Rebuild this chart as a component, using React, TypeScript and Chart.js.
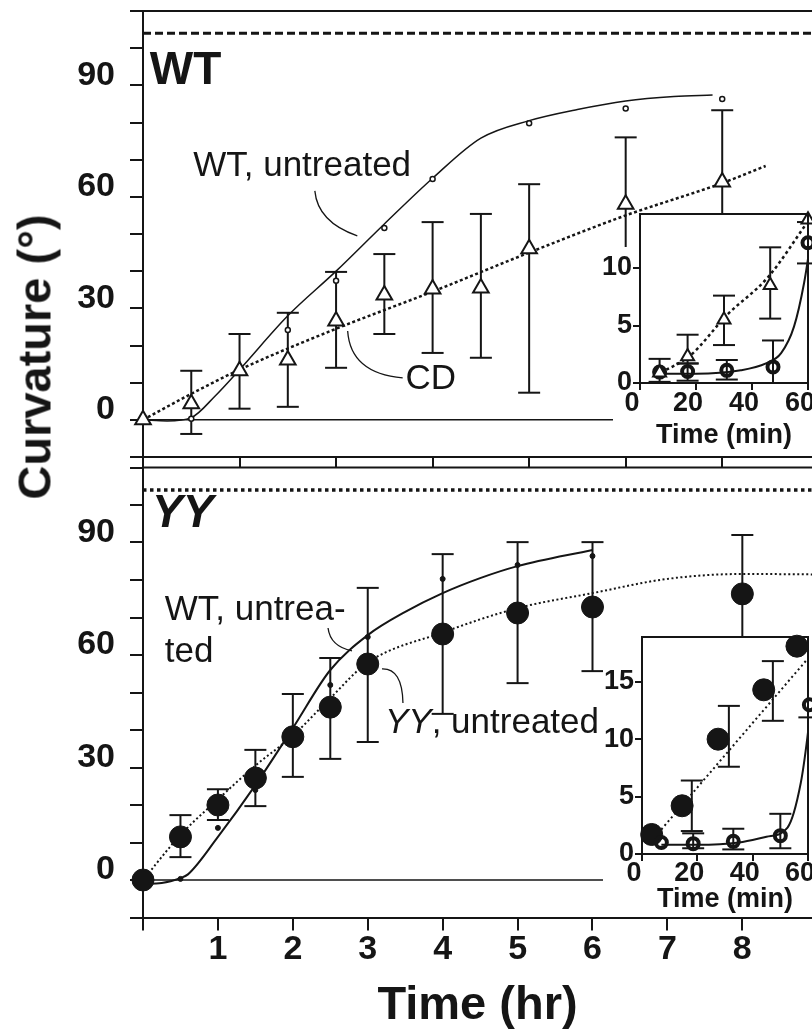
import React, { useEffect, useRef } from 'react';
import { Chart, registerables } from 'chart.js';

Chart.register(...registerables);

const FONT = '"Liberation Sans", Arial, Helvetica, sans-serif';
const INK = '#151515';

// ---------------- Top panel: WT (time in hours) ----------------
const cdTime = [0, 0.5, 1, 1.5, 2, 2.5, 3, 3.5, 4, 5, 6];
const cdMean = [0, 4.3, 13.2, 16.1, 26.6, 33.6, 35.2, 35.5, 46, 58, 64];
const cdLow = [null, -3.8, 3.0, 3.5, 14.0, 23.1, 18.0, 16.7, 7.3, 30, 45];
const cdHigh = [null, 13.2, 23.1, 28.8, 39.8, 44.6, 53.2, 55.4, 63.4, 76, 83.3];

const wtTopTime = [0, 0.5, 1, 1.5, 2, 2.5, 3, 4, 5, 6];
const wtTopMean = [0, 0.3, 13, 24.2, 37.4, 51.6, 64.8, 79.8, 83.8, 86.3];

const wtTopFitTime = [0, 0.25, 0.5, 0.75, 1, 1.5, 2, 2.5, 3, 3.5, 4, 4.5, 5, 5.5, 5.9];
const wtTopFit = [0, -0.3, 0.6, 6.5, 13.5, 28, 40, 52.7, 65, 75.8, 80.5, 83.5, 85.8, 87, 87.4];

const cdFitTime = [0, 0.5, 1, 2, 3, 4, 5, 6, 6.45];
const cdFit = [0, 7, 13.5, 24.5, 34.5, 45, 55, 63.7, 68.3];

const topZeroTime = [0, 5.2];
const topXMax = 6.93;

// ---------------- Bottom panel: YY (time in hours) ----------------
const yyTime = [0, 0.5, 1, 1.5, 2, 2.5, 3, 4, 5, 6, 8];
const yyMean = [0, 11.5, 20, 27.2, 38.2, 46.1, 57.6, 65.6, 71.2, 72.8, 76.3];
const yyLow = [null, 6.1, 16.0, 19.7, 27.5, 32.3, 36.8, 44.3, 52.5, 55.7, 55];
const yyHigh = [null, 17.3, 24.2, 34.7, 49.6, 59.2, 77.9, 86.9, 90.1, 90.1, 92];

const wtBotTime = [0, 0.5, 1, 1.5, 2, 2.5, 3, 4, 5, 6];
const wtBotMean = [0, 0.3, 13.9, 24, 38, 52, 64.8, 80.3, 84, 86.4];

const wtBotFitTime = [0, 0.25, 0.5, 0.6, 1, 1.5, 2, 2.5, 3, 3.5, 4, 4.5, 5, 6];
const wtBotFit = [-1, -0.8, 0.5, 1.5, 11.5, 25.3, 40.5, 56, 65.3, 71.5, 76.5, 80.5, 83.7, 88];

const yyFitTime = [0, 0.5, 1, 1.5, 2, 2.5, 3, 4, 5, 6, 7, 8, 9.5];
const yyFit = [0, 12, 21.5, 30.5, 38.5, 48.5, 58, 66, 72.5, 76.5, 80.3, 81.6, 81.4];

const botZeroTime = [0, 6.5];
const botXMax = 8.93;

const refLevel = 104;
const mainYLabels = [0, 30, 60, 90];
const mainXLabels = [1, 2, 3, 4, 5, 6, 7, 8];

// ---------------- Top inset (minutes) ----------------
const cdInTime = [7, 17, 30, 46.5, 60];
const cdInMean = [0.9, 2.3, 5.5, 8.5, 14.2];
const cdInLow = [0.1, 1.7, 3.3, 5.6, null];
const cdInHigh = [2.1, 4.2, 7.6, 11.8, null];
const cdInFitTime = [7.5, 18, 31, 45.7, 60.4];
const cdInFit = [0.9, 2.4, 5.9, 9.2, 14.2];

const wtInTime = [7, 17, 31, 47.5, 60];
const wtInMean = [0.95, 1.0, 1.1, 1.4, 12.2];
const wtInLow = [null, 0.2, 0.3, 0, 10.4];
const wtInHigh = [null, 1.7, 2.0, 3.7, 14];
const wtInFitTime = [7, 20, 36, 45, 50.4, 55, 58.6, 61];
const wtInFit = [0.8, 0.8, 1.1, 1.7, 2.6, 4.9, 8.7, 12.4];

// ---------------- Bottom inset (minutes) ----------------
const yyInTime = [3.5, 14.5, 27.5, 44, 56];
const yyInMean = [1.7, 4.2, 10.0, 14.3, 18.1];
const yyInBarTime = [18, 31.4, 47.3];
const yyInLow = [2.0, 7.6, 11.6];
const yyInHigh = [6.4, 12.9, 16.8];
const yyInFitTime = [5.8, 62];
const yyInFit = [1.8, 17.6];

const wtIn2Time = [7, 18.5, 33, 50, 60.5];
const wtIn2Mean = [1.0, 0.9, 1.1, 1.6, 13];
const wtIn2Low = [null, 0.5, 0.4, 0.5, 11.9];
const wtIn2High = [null, 1.8, 2.2, 3.5, 14.1];
const wtIn2FitTime = [7, 20, 35, 45, 52.6, 57.4, 59.8, 61.5];
const wtIn2Fit = [0.8, 0.8, 1.0, 1.5, 2.3, 6.2, 10.2, 14];

// ---------------- helpers ----------------
const xy = (xs: number[], ys: number[]) => xs.map((x, i) => ({ x, y: ys[i] }));
const bars = (xs: number[], lo: (number | null)[], hi: (number | null)[]) => {
  const out: any[] = [];
  xs.forEach((x, i) => {
    if (lo[i] == null || hi[i] == null) return;
    out.push({ x, y: lo[i] }, { x, y: hi[i] }, { x, y: null });
  });
  return out;
};

const f = (size: number, weight = 'normal', style = 'normal') => `${style} ${weight} ${size}px ${FONT}`;

const annotPlugin = {
  id: 'annot',
  afterDatasetsDraw(chart: any, _a: any, opts: any) {
    const items = (opts && opts.items) || [];
    const xs = chart.scales.x;
    const ys = chart.scales.y;
    const ctx = chart.ctx;
    ctx.save();
    ctx.fillStyle = INK;
    ctx.strokeStyle = INK;
    for (const it of items) {
      if (it.kind === 'text') {
        let px = xs.getPixelForValue(it.x);
        const py = ys.getPixelForValue(it.y);
        ctx.textBaseline = 'alphabetic';
        ctx.textAlign = 'left';
        for (const p of it.parts) {
          ctx.font = p.font;
          ctx.fillText(p.text, px, py);
          px += ctx.measureText(p.text).width;
        }
      } else {
        ctx.lineWidth = 1.3;
        ctx.beginPath();
        ctx.moveTo(xs.getPixelForValue(it.from[0]), ys.getPixelForValue(it.from[1]));
        ctx.quadraticCurveTo(
          xs.getPixelForValue(it.ctrl[0]), ys.getPixelForValue(it.ctrl[1]),
          xs.getPixelForValue(it.to[0]), ys.getPixelForValue(it.to[1]));
        ctx.stroke();
      }
    }
    ctx.restore();
  },
};

const framePlugin = {
  id: 'frame',
  afterDraw(chart: any, _a: any, opts: any) {
    const { left, right, top, bottom } = chart.chartArea;
    const ctx = chart.ctx;
    ctx.save();
    ctx.strokeStyle = INK;
    ctx.lineWidth = 2;
    ctx.beginPath();
    ctx.moveTo(left, top);
    ctx.lineTo(opts && opts.right ? right : chart.width, top);
    if (opts && opts.right) {
      ctx.moveTo(right, top - 1);
      ctx.lineTo(right, bottom);
    }
    ctx.stroke();
    ctx.restore();
  },
};

const maskPlugin = {
  id: 'mask',
  beforeDraw(chart: any, _a: any, opts: any) {
    if (!opts || !opts.on) return;
    const { left, top, bottom } = chart.chartArea;
    const ctx = chart.ctx;
    ctx.save();
    ctx.fillStyle = '#ffffff';
    ctx.fillRect(left, top, chart.width - left, bottom - top);
    ctx.fillRect(left - opts.side, top + opts.sideTop, opts.side, bottom - top - opts.sideTop);
    ctx.fillRect(left - opts.side, bottom, chart.width - left + opts.side, opts.below);
    ctx.restore();
  },
};

const line = (data: any[], extra: any = {}) => ({
  data,
  borderColor: INK,
  backgroundColor: INK,
  borderWidth: 1.5,
  pointRadius: 0,
  fill: false,
  cubicInterpolationMode: 'monotone',
  ...extra,
});

const errorBars = (data: any[], cap: number, order = 2) => ({
  data,
  borderColor: INK,
  borderWidth: 2,
  showLine: true,
  spanGaps: false,
  pointStyle: 'line',
  pointRadius: cap,
  pointBorderWidth: 2,
  pointBorderColor: INK,
  pointHoverRadius: cap,
  clip: false,
  order,
});

const markers = (data: any[], style: string, radius: number, fillColor: string, bw: number, order = 0) => ({
  data,
  showLine: false,
  pointStyle: style,
  pointRadius: radius,
  pointHoverRadius: radius,
  pointBackgroundColor: fillColor,
  pointBorderColor: INK,
  pointBorderWidth: bw,
  borderColor: INK,
  clip: false,
  order,
});

const mainY = () => ({
  type: 'linear',
  min: -10,
  max: 110,
  ticks: {
    stepSize: 10,
    autoSkip: false,
    includeBounds: false,
    callback: (v: number) => (mainYLabels.includes(Math.round(v)) ? String(Math.round(v)) : ''),
    font: { family: FONT, size: 34, weight: 'bold' },
    color: INK,
    padding: 15,
    labelOffset: -10,
  },
  grid: { display: true, drawOnChartArea: false, drawTicks: true, tickLength: 13, color: INK, lineWidth: 2 },
  border: { display: true, color: INK, width: 2 },
  afterFit: (s: any) => { s.width = 143; s.paddingTop = 0; s.paddingBottom = 0; },
});

const baseOptions = (scales: any, plugins: any, padding: any) => ({
  animation: false,
  responsive: false,
  devicePixelRatio: 1,
  events: [],
  layout: { padding, autoPadding: false },
  scales,
  plugins: { legend: { display: false }, tooltip: { enabled: false }, ...plugins },
});

function topConfig(): any {
  return {
    type: 'line',
    data: {
      datasets: [
        markers(xy(cdTime, cdMean), 'triangle', 9, '#ffffff', 2, 0),
        markers(xy(wtTopTime, wtTopMean), 'circle', 2.5, '#ffffff', 1.5, 1),
        errorBars(bars(cdTime, cdLow, cdHigh), 11, 2),
        line(xy(wtTopFitTime, wtTopFit), { order: 3, borderWidth: 1.5 }),
        line(xy(cdFitTime, cdFit), { order: 3, borderWidth: 2.5, borderDash: [3, 2.5] }),
        line(xy(topZeroTime, [0, 0]), { order: 4, borderWidth: 1.5, cubicInterpolationMode: 'default' }),
        line(xy([0, topXMax], [refLevel, refLevel]), { order: 4, borderWidth: 3, borderDash: [8, 4], cubicInterpolationMode: 'default' }),
      ],
    },
    options: baseOptions(
      {
        x: {
          type: 'linear', min: 0, max: topXMax,
          ticks: { stepSize: 1, autoSkip: false, includeBounds: false, callback: () => '', maxRotation: 0, minRotation: 0 },
          grid: { display: true, drawOnChartArea: false, tickLength: 11, color: INK, lineWidth: 2 },
          border: { display: true, color: INK, width: 2 },
          afterFit: (s: any) => { s.height = 23; s.paddingLeft = 0; s.paddingRight = 0; },
        },
        y: mainY(),
      },
      {
        annot: {
          items: [
            { kind: 'text', x: 0.07, y: 90.3, parts: [{ text: 'WT', font: f(46, 'bold') }] },
            { kind: 'text', x: 0.52, y: 65.6, parts: [{ text: 'WT, untreated', font: f(35) }] },
            { kind: 'text', x: 2.72, y: 8.3, parts: [{ text: 'CD', font: f(35) }] },
            { kind: 'curve', from: [1.78, 61.6], ctrl: [1.81, 53.2], to: [2.22, 49.5] },
            { kind: 'curve', from: [2.12, 23.9], ctrl: [2.15, 12.5], to: [2.69, 11.3] },
          ],
        },
        frame: { right: false },
        mask: { on: false },
      },
      { top: 11, left: 0, right: 0, bottom: 0 },
    ),
    plugins: [annotPlugin, framePlugin, maskPlugin],
  };
}

function bottomConfig(): any {
  return {
    type: 'line',
    data: {
      datasets: [
        markers(xy(yyTime, yyMean), 'circle', 11, INK, 1, 0),
        markers(xy(wtBotTime, wtBotMean), 'circle', 2.5, INK, 1, 1),
        errorBars(bars(yyTime, yyLow, yyHigh), 11, 2),
        line(xy(wtBotFitTime, wtBotFit), { order: 3, borderWidth: 2 }),
        line(xy(yyFitTime, yyFit), { order: 3, borderWidth: 2, borderDash: [2, 2.5] }),
        line(xy(botZeroTime, [0, 0]), { order: 4, borderWidth: 1.5, cubicInterpolationMode: 'default' }),
        line(xy([0, botXMax], [refLevel, refLevel]), { order: 4, borderWidth: 3.5, borderDash: [3.5, 3.5], cubicInterpolationMode: 'default' }),
      ],
    },
    options: baseOptions(
      {
        x: {
          type: 'linear', min: 0, max: botXMax,
          ticks: {
            stepSize: 1, autoSkip: false, includeBounds: false, maxRotation: 0, minRotation: 0,
            callback: (v: number) => (mainXLabels.includes(Math.round(v)) ? String(Math.round(v)) : ''),
            font: { family: FONT, size: 34, weight: 'bold' }, color: INK, padding: -1,
          },
          grid: { display: true, drawOnChartArea: false, tickLength: 13, color: INK, lineWidth: 2 },
          border: { display: true, color: INK, width: 2 },
          title: { display: true, text: 'Time (hr)', color: INK, font: { family: FONT, size: 47, weight: 'bold' }, padding: { top: 0, bottom: 2 } },
          afterFit: (s: any) => { s.height = 118.5; s.paddingLeft = 0; s.paddingRight = 0; },
        },
        y: mainY(),
      },
      {
        annot: {
          items: [
            { kind: 'text', x: 0.12, y: 94.1, parts: [{ text: 'YY', font: f(46, 'bold', 'italic') }] },
            { kind: 'text', x: 0.29, y: 69.3, parts: [{ text: 'WT, untrea-', font: f(35) }] },
            { kind: 'text', x: 0.29, y: 58.1, parts: [{ text: 'ted', font: f(35) }] },
            { kind: 'text', x: 3.23, y: 39.2, parts: [{ text: 'YY', font: f(35, 'normal', 'italic') }, { text: ', untreated', font: f(35) }] },
            { kind: 'curve', from: [2.47, 67.2], ctrl: [2.5, 62.3], to: [2.79, 61.1] },
            { kind: 'curve', from: [3.19, 56.3], ctrl: [3.46, 56.5], to: [3.47, 47.2] },
          ],
        },
        frame: { right: false },
        mask: { on: false },
      },
      { top: 5.5, left: 0, right: 0, bottom: 0 },
    ),
    plugins: [annotPlugin, framePlugin, maskPlugin],
  };
}

const insetScales = (yMax: number, yWidth: number, xHeight: number, labelPad: number, titlePad: number) => ({
  x: {
    type: 'linear', min: 0, max: 60,
    ticks: {
      stepSize: 20, autoSkip: false, maxRotation: 0, minRotation: 0,
      font: { family: FONT, size: 27, weight: 'bold' }, color: INK, padding: labelPad, labelOffset: -8,
    },
    grid: { display: true, drawOnChartArea: false, tickLength: 7, color: INK, lineWidth: 2 },
    border: { display: true, color: INK, width: 2 },
    title: { display: true, text: 'Time (min)', color: INK, font: { family: FONT, size: 27, weight: 'bold' }, padding: { top: 0, bottom: titlePad } },
    afterFit: (s: any) => { s.height = xHeight; s.paddingLeft = 0; s.paddingRight = 0; },
  },
  y: {
    type: 'linear', min: 0, max: yMax,
    ticks: {
      stepSize: 5, autoSkip: false, includeBounds: false,
      font: { family: FONT, size: 27, weight: 'bold' }, color: INK, padding: 1,
    },
    grid: { display: true, drawOnChartArea: false, tickLength: 7, color: INK, lineWidth: 2 },
    border: { display: true, color: INK, width: 2 },
    afterFit: (s: any) => { s.width = yWidth; s.paddingTop = 0; s.paddingBottom = 0; },
  },
});

function topInsetConfig(): any {
  return {
    type: 'line',
    data: {
      datasets: [
        markers(xy(cdInTime, cdInMean), 'triangle', 7.5, '#ffffff', 2, 0),
        markers(xy(wtInTime, wtInMean), 'circle', 5.5, 'rgba(255,255,255,0)', 4, 1),
        errorBars(bars(cdInTime, cdInLow, cdInHigh), 11, 2),
        errorBars(bars(wtInTime, wtInLow, wtInHigh), 11, 2),
        line(xy(cdInFitTime, cdInFit), { order: 3, borderWidth: 2.5, borderDash: [3, 3] }),
        line(xy(wtInFitTime, wtInFit), { order: 3, borderWidth: 2 }),
      ],
    },
    options: baseOptions(
      insetScales(14.7, 50, 72, -3, 3),
      { frame: { right: true }, mask: { on: true, side: 27, sideTop: 33, below: 72 } },
      { top: 14, left: 0, right: 4, bottom: 0 },
    ),
    plugins: [framePlugin, maskPlugin],
  };
}

function bottomInsetConfig(): any {
  return {
    type: 'line',
    data: {
      datasets: [
        markers(xy(yyInTime, yyInMean), 'circle', 11, INK, 1, 1),
        markers(xy(wtIn2Time, wtIn2Mean), 'circle', 5.5, 'rgba(255,255,255,0)', 4, 0),
        errorBars(bars(yyInBarTime, yyInLow, yyInHigh), 11, 2),
        errorBars(bars(wtIn2Time, wtIn2Low, wtIn2High), 11, 2),
        line(xy(yyInFitTime, yyInFit), { order: 3, borderWidth: 2, borderDash: [2, 3], cubicInterpolationMode: 'default' }),
        line(xy(wtIn2FitTime, wtIn2Fit), { order: 3, borderWidth: 2 }),
      ],
    },
    options: baseOptions(
      insetScales(18.9, 52, 66, -4, 4),
      { frame: { right: true }, mask: { on: true, side: 39, sideTop: 0, below: 57 } },
      { top: 12, left: 0, right: 4, bottom: 0 },
    ),
    plugins: [framePlugin, maskPlugin],
  };
}

export default function App() {
  const topRef = useRef<HTMLCanvasElement | null>(null);
  const botRef = useRef<HTMLCanvasElement | null>(null);
  const tinRef = useRef<HTMLCanvasElement | null>(null);
  const binRef = useRef<HTMLCanvasElement | null>(null);

  useEffect(() => {
    const charts = [
      new Chart(topRef.current as any, topConfig()),
      new Chart(botRef.current as any, bottomConfig()),
      new Chart(tinRef.current as any, topInsetConfig()),
      new Chart(binRef.current as any, bottomInsetConfig()),
    ];
    return () => charts.forEach((c) => c.destroy());
  }, []);

  return (
    <div style={{ position: 'fixed', left: 0, top: 0, width: 812, height: 1036, background: '#fff', overflow: 'hidden' }}>
      <canvas ref={topRef} width={812} height={480} style={{ position: 'absolute', left: 0, top: 0 }} />
      <canvas ref={botRef} width={812} height={574} style={{ position: 'absolute', left: 0, top: 462 }} />
      <canvas ref={tinRef} width={222} height={255} style={{ position: 'absolute', left: 590, top: 200 }} />
      <canvas ref={binRef} width={222} height={295} style={{ position: 'absolute', left: 590, top: 625 }} />
      <div
        style={{
          position: 'absolute', left: 34, top: 357,
          transform: 'translate(-50%, -50%) rotate(-90deg)',
          font: `bold 47px ${FONT}`, lineHeight: 1, whiteSpace: 'nowrap', color: INK,
        }}
      >
        Curvature (°)
      </div>
    </div>
  );
}
